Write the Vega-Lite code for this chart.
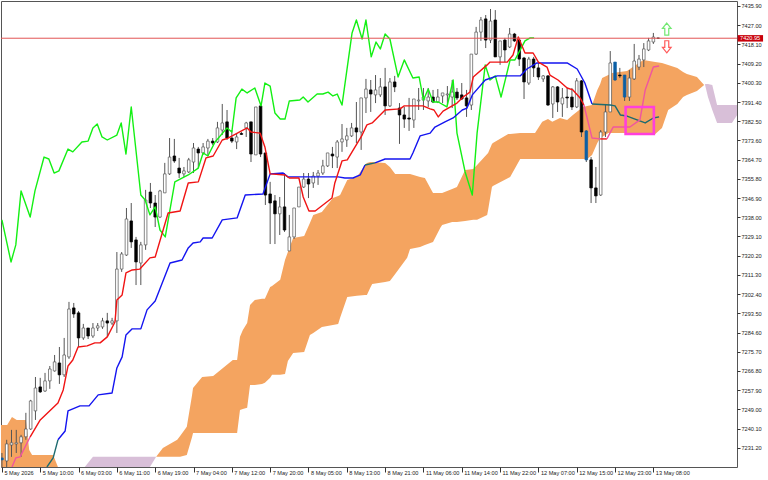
{
  "$schema": "https://vega.github.io/schema/vega-lite/v6.json",
  "width": 736,
  "height": 466,
  "autosize": "none",
  "padding": {"left": 1, "top": 1, "right": 31, "bottom": 13},
  "background": "white",
  "datasets": {
    "candles": [
      {"bar":0,"open":7226.5,"high":7228.8,"low":7222.3,"close":7225.6,"tone":"cloud"},
      {"bar":1,"open":7225.1,"high":7234.9,"low":7222.3,"close":7233.0,"tone":"up"},
      {"bar":2,"open":7232.5,"high":7239.5,"low":7227.0,"close":7233.5,"tone":"up"},
      {"bar":3,"open":7233.0,"high":7239.5,"low":7228.8,"close":7233.5,"tone":"up"},
      {"bar":4,"open":7233.5,"high":7237.2,"low":7227.0,"close":7236.3,"tone":"up"},
      {"bar":5,"open":7236.3,"high":7247.4,"low":7234.9,"close":7239.9,"tone":"up"},
      {"bar":6,"open":7239.9,"high":7253.4,"low":7239.5,"close":7252.9,"tone":"up"},
      {"bar":7,"open":7248.3,"high":7264.0,"low":7244.1,"close":7258.9,"tone":"up"},
      {"bar":8,"open":7259.4,"high":7263.6,"low":7256.6,"close":7257.1,"tone":"down"},
      {"bar":9,"open":7257.5,"high":7265.9,"low":7257.1,"close":7262.2,"tone":"up"},
      {"bar":10,"open":7262.2,"high":7269.1,"low":7258.5,"close":7267.7,"tone":"up"},
      {"bar":11,"open":7266.8,"high":7274.2,"low":7266.5,"close":7271.0,"tone":"up"},
      {"bar":12,"open":7270.5,"high":7277.9,"low":7260.8,"close":7265.0,"tone":"down"},
      {"bar":13,"open":7265.0,"high":7282.1,"low":7264.0,"close":7274.2,"tone":"up"},
      {"bar":14,"open":7273.3,"high":7298.8,"low":7272.4,"close":7295.5,"tone":"up"},
      {"bar":15,"open":7296.0,"high":7298.3,"low":7291.4,"close":7293.2,"tone":"down"},
      {"bar":16,"open":7293.7,"high":7294.6,"low":7277.9,"close":7282.1,"tone":"down"},
      {"bar":17,"open":7282.1,"high":7288.6,"low":7281.2,"close":7286.7,"tone":"up"},
      {"bar":18,"open":7286.7,"high":7286.7,"low":7281.6,"close":7283.0,"tone":"down"},
      {"bar":19,"open":7283.0,"high":7289.0,"low":7282.1,"close":7286.7,"tone":"up"},
      {"bar":20,"open":7286.7,"high":7289.0,"low":7285.3,"close":7287.7,"tone":"up"},
      {"bar":21,"open":7287.2,"high":7291.4,"low":7286.3,"close":7290.0,"tone":"up"},
      {"bar":22,"open":7290.0,"high":7293.7,"low":7282.6,"close":7289.0,"tone":"down"},
      {"bar":23,"open":7289.0,"high":7291.4,"low":7288.1,"close":7290.0,"tone":"up"},
      {"bar":24,"open":7290.0,"high":7321.9,"low":7284.4,"close":7314.0,"tone":"up"},
      {"bar":25,"open":7314.0,"high":7321.9,"low":7312.7,"close":7321.0,"tone":"up"},
      {"bar":26,"open":7320.5,"high":7342.3,"low":7320.1,"close":7337.2,"tone":"up"},
      {"bar":27,"open":7336.3,"high":7344.6,"low":7323.8,"close":7326.6,"tone":"down"},
      {"bar":28,"open":7327.5,"high":7328.9,"low":7306.6,"close":7317.3,"tone":"down"},
      {"bar":29,"open":7316.8,"high":7326.6,"low":7306.6,"close":7325.2,"tone":"up"},
      {"bar":30,"open":7325.2,"high":7350.7,"low":7322.9,"close":7346.0,"tone":"up"},
      {"bar":31,"open":7349.7,"high":7353.9,"low":7342.3,"close":7344.6,"tone":"down"},
      {"bar":32,"open":7344.6,"high":7348.3,"low":7333.5,"close":7338.1,"tone":"down"},
      {"bar":33,"open":7338.1,"high":7350.7,"low":7337.7,"close":7350.2,"tone":"up"},
      {"bar":34,"open":7349.3,"high":7363.2,"low":7349.3,"close":7358.1,"tone":"up"},
      {"bar":35,"open":7358.1,"high":7374.7,"low":7357.6,"close":7365.9,"tone":"up"},
      {"bar":36,"open":7366.4,"high":7374.3,"low":7363.2,"close":7364.1,"tone":"down"},
      {"bar":37,"open":7360.8,"high":7365.5,"low":7356.2,"close":7358.5,"tone":"down"},
      {"bar":38,"open":7358.1,"high":7361.3,"low":7356.7,"close":7359.5,"tone":"up"},
      {"bar":39,"open":7359.0,"high":7365.5,"low":7358.5,"close":7364.6,"tone":"up"},
      {"bar":40,"open":7363.6,"high":7372.4,"low":7358.5,"close":7370.1,"tone":"up"},
      {"bar":41,"open":7369.6,"high":7370.6,"low":7360.8,"close":7367.8,"tone":"down"},
      {"bar":42,"open":7367.8,"high":7372.4,"low":7366.9,"close":7370.6,"tone":"up"},
      {"bar":43,"open":7370.1,"high":7374.3,"low":7366.4,"close":7373.3,"tone":"up"},
      {"bar":44,"open":7373.3,"high":7374.7,"low":7371.5,"close":7372.4,"tone":"down"},
      {"bar":45,"open":7372.9,"high":7382.2,"low":7372.4,"close":7379.4,"tone":"up"},
      {"bar":46,"open":7378.4,"high":7390.5,"low":7376.1,"close":7381.7,"tone":"up"},
      {"bar":47,"open":7382.2,"high":7387.7,"low":7373.8,"close":7374.7,"tone":"down"},
      {"bar":48,"open":7374.7,"high":7378.4,"low":7372.4,"close":7373.3,"tone":"down"},
      {"bar":49,"open":7372.9,"high":7377.0,"low":7369.6,"close":7375.2,"tone":"up"},
      {"bar":50,"open":7376.8,"high":7377.5,"low":7376.1,"close":7376.4,"tone":"down"},
      {"bar":51,"open":7379.4,"high":7382.2,"low":7375.2,"close":7381.7,"tone":"up"},
      {"bar":52,"open":7382.2,"high":7382.2,"low":7363.6,"close":7367.3,"tone":"down"},
      {"bar":53,"open":7366.9,"high":7389.1,"low":7366.9,"close":7389.1,"tone":"up"},
      {"bar":54,"open":7389.6,"high":7389.6,"low":7365.9,"close":7367.3,"tone":"down"},
      {"bar":55,"open":7367.8,"high":7367.8,"low":7343.7,"close":7348.3,"tone":"down"},
      {"bar":56,"open":7348.8,"high":7354.4,"low":7325.6,"close":7344.6,"tone":"down"},
      {"bar":57,"open":7345.6,"high":7348.3,"low":7325.6,"close":7339.6,"tone":"down"},
      {"bar":58,"open":7339.6,"high":7347.4,"low":7329.8,"close":7342.8,"tone":"up"},
      {"bar":59,"open":7342.8,"high":7358.5,"low":7331.2,"close":7332.1,"tone":"down"},
      {"bar":60,"open":7322.4,"high":7339.1,"low":7322.4,"close":7328.9,"tone":"up"},
      {"bar":61,"open":7328.9,"high":7342.3,"low":7328.0,"close":7342.3,"tone":"up"},
      {"bar":62,"open":7342.8,"high":7352.0,"low":7342.8,"close":7352.0,"tone":"up"},
      {"bar":63,"open":7352.0,"high":7358.5,"low":7351.6,"close":7355.7,"tone":"up"},
      {"bar":64,"open":7355.7,"high":7358.5,"low":7346.9,"close":7353.4,"tone":"down"},
      {"bar":65,"open":7353.9,"high":7359.0,"low":7351.6,"close":7357.1,"tone":"up"},
      {"bar":66,"open":7357.1,"high":7359.9,"low":7353.0,"close":7358.5,"tone":"up"},
      {"bar":67,"open":7358.5,"high":7364.6,"low":7357.6,"close":7361.8,"tone":"up"},
      {"bar":68,"open":7361.8,"high":7367.8,"low":7361.3,"close":7367.8,"tone":"up"},
      {"bar":69,"open":7367.3,"high":7370.6,"low":7360.8,"close":7366.4,"tone":"down"},
      {"bar":70,"open":7365.9,"high":7373.8,"low":7360.8,"close":7372.9,"tone":"up"},
      {"bar":71,"open":7372.9,"high":7381.2,"low":7368.3,"close":7374.3,"tone":"up"},
      {"bar":72,"open":7373.8,"high":7379.4,"low":7370.6,"close":7375.7,"tone":"up"},
      {"bar":73,"open":7375.7,"high":7381.7,"low":7375.2,"close":7379.4,"tone":"up"},
      {"bar":74,"open":7379.4,"high":7391.4,"low":7372.4,"close":7377.5,"tone":"down"},
      {"bar":75,"open":7377.5,"high":7393.3,"low":7369.2,"close":7393.3,"tone":"up"},
      {"bar":76,"open":7393.3,"high":7402.1,"low":7386.3,"close":7397.4,"tone":"up"},
      {"bar":77,"open":7397.0,"high":7401.6,"low":7386.8,"close":7395.1,"tone":"down"},
      {"bar":78,"open":7394.7,"high":7403.9,"low":7390.9,"close":7397.0,"tone":"up"},
      {"bar":79,"open":7394.7,"high":7402.5,"low":7393.7,"close":7398.4,"tone":"up"},
      {"bar":80,"open":7398.4,"high":7407.2,"low":7385.4,"close":7389.6,"tone":"down"},
      {"bar":81,"open":7389.6,"high":7402.5,"low":7389.1,"close":7400.7,"tone":"up"},
      {"bar":82,"open":7400.7,"high":7403.5,"low":7396.0,"close":7398.4,"tone":"down"},
      {"bar":83,"open":7388.6,"high":7390.9,"low":7372.0,"close":7385.4,"tone":"down"},
      {"bar":84,"open":7385.4,"high":7389.1,"low":7379.4,"close":7383.5,"tone":"down"},
      {"bar":85,"open":7384.0,"high":7393.3,"low":7378.0,"close":7383.5,"tone":"down"},
      {"bar":86,"open":7383.1,"high":7392.8,"low":7379.4,"close":7392.8,"tone":"up"},
      {"bar":87,"open":7391.9,"high":7397.9,"low":7387.7,"close":7392.3,"tone":"up"},
      {"bar":88,"open":7392.3,"high":7397.9,"low":7387.7,"close":7393.7,"tone":"up"},
      {"bar":89,"open":7391.9,"high":7397.9,"low":7389.1,"close":7393.7,"tone":"up"},
      {"bar":90,"open":7393.7,"high":7397.0,"low":7390.9,"close":7391.4,"tone":"down"},
      {"bar":91,"open":7391.4,"high":7397.4,"low":7390.9,"close":7393.7,"tone":"up"},
      {"bar":92,"open":7394.2,"high":7395.6,"low":7390.9,"close":7395.6,"tone":"up"},
      {"bar":93,"open":7394.7,"high":7398.8,"low":7390.0,"close":7395.1,"tone":"up"},
      {"bar":94,"open":7393.7,"high":7401.6,"low":7388.6,"close":7396.0,"tone":"up"},
      {"bar":95,"open":7396.0,"high":7397.9,"low":7392.3,"close":7393.3,"tone":"down"},
      {"bar":96,"open":7394.7,"high":7400.2,"low":7392.3,"close":7392.8,"tone":"down"},
      {"bar":97,"open":7393.3,"high":7397.0,"low":7384.5,"close":7389.6,"tone":"down"},
      {"bar":98,"open":7390.0,"high":7413.6,"low":7387.7,"close":7413.6,"tone":"up"},
      {"bar":99,"open":7413.6,"high":7426.2,"low":7413.2,"close":7423.8,"tone":"up"},
      {"bar":100,"open":7423.8,"high":7430.8,"low":7419.7,"close":7429.4,"tone":"up"},
      {"bar":101,"open":7429.9,"high":7431.7,"low":7416.4,"close":7420.1,"tone":"down"},
      {"bar":102,"open":7420.1,"high":7434.5,"low":7418.7,"close":7428.9,"tone":"up"},
      {"bar":103,"open":7429.4,"high":7434.0,"low":7412.3,"close":7412.3,"tone":"down"},
      {"bar":104,"open":7412.3,"high":7419.7,"low":7408.6,"close":7419.7,"tone":"up"},
      {"bar":105,"open":7420.1,"high":7421.1,"low":7409.9,"close":7415.5,"tone":"down"},
      {"bar":106,"open":7416.9,"high":7425.7,"low":7416.4,"close":7422.9,"tone":"up"},
      {"bar":107,"open":7422.9,"high":7423.4,"low":7419.2,"close":7419.7,"tone":"down"},
      {"bar":108,"open":7420.1,"high":7421.1,"low":7408.1,"close":7411.3,"tone":"down"},
      {"bar":109,"open":7411.8,"high":7412.3,"low":7392.8,"close":7400.7,"tone":"down"},
      {"bar":110,"open":7400.2,"high":7412.3,"low":7399.3,"close":7411.3,"tone":"up"},
      {"bar":111,"open":7411.3,"high":7412.3,"low":7403.0,"close":7407.2,"tone":"down"},
      {"bar":112,"open":7407.2,"high":7409.9,"low":7401.6,"close":7403.0,"tone":"down"},
      {"bar":113,"open":7402.1,"high":7403.9,"low":7400.7,"close":7403.5,"tone":"up"},
      {"bar":114,"open":7403.5,"high":7403.9,"low":7389.6,"close":7390.0,"tone":"down"},
      {"bar":115,"open":7390.5,"high":7398.8,"low":7384.0,"close":7398.4,"tone":"up"},
      {"bar":116,"open":7398.4,"high":7398.8,"low":7386.8,"close":7391.4,"tone":"down"},
      {"bar":117,"open":7390.5,"high":7397.9,"low":7384.5,"close":7393.3,"tone":"up"},
      {"bar":118,"open":7393.7,"high":7397.9,"low":7388.6,"close":7393.3,"tone":"down"},
      {"bar":119,"open":7393.7,"high":7397.9,"low":7387.7,"close":7389.1,"tone":"down"},
      {"bar":120,"open":7389.1,"high":7402.5,"low":7388.6,"close":7401.2,"tone":"up"},
      {"bar":121,"open":7401.2,"high":7401.6,"low":7375.2,"close":7377.5,"tone":"down"},
      {"bar":122,"open":7378.0,"high":7378.4,"low":7363.6,"close":7364.6,"tone":"cloud"},
      {"bar":123,"open":7364.6,"high":7365.9,"low":7344.6,"close":7351.6,"tone":"down"},
      {"bar":124,"open":7351.6,"high":7361.3,"low":7344.6,"close":7347.9,"tone":"down"},
      {"bar":125,"open":7348.3,"high":7378.4,"low":7347.9,"close":7377.5,"tone":"up"},
      {"bar":126,"open":7377.5,"high":7390.5,"low":7375.2,"close":7386.8,"tone":"up"},
      {"bar":127,"open":7386.8,"high":7415.0,"low":7386.8,"close":7409.5,"tone":"up"},
      {"bar":128,"open":7409.9,"high":7409.9,"low":7401.2,"close":7401.6,"tone":"cloud"},
      {"bar":129,"open":7403.9,"high":7407.2,"low":7402.5,"close":7403.5,"tone":"down"},
      {"bar":130,"open":7403.9,"high":7403.9,"low":7391.9,"close":7393.7,"tone":"cloud"},
      {"bar":131,"open":7393.7,"high":7406.2,"low":7391.9,"close":7402.5,"tone":"up"},
      {"bar":132,"open":7402.1,"high":7418.3,"low":7401.6,"close":7410.4,"tone":"up"},
      {"bar":133,"open":7407.6,"high":7413.2,"low":7406.2,"close":7411.3,"tone":"up"},
      {"bar":134,"open":7410.9,"high":7418.7,"low":7407.6,"close":7416.0,"tone":"up"},
      {"bar":135,"open":7415.5,"high":7421.1,"low":7415.0,"close":7419.7,"tone":"up"},
      {"bar":136,"open":7419.2,"high":7423.4,"low":7418.3,"close":7421.5,"tone":"up"},
      {"bar":137,"open":7421.0,"high":7421.1,"low":7420.6,"close":7420.95,"tone":"down"}
    ],
    "cloud": [
      {"bar":-0.2,"top":7241.8,"bottom":7222.3,"part":"a","kumo":"rising"},
      {"bar":1.1,"top":7241.8,"bottom":7222.3,"part":"a","kumo":"rising"},
      {"bar":2.1,"top":7245.5,"bottom":7222.3,"part":"a","kumo":"rising"},
      {"bar":3.1,"top":7244.1,"bottom":7222.3,"part":"a","kumo":"rising"},
      {"bar":5.0,"top":7244.1,"bottom":7222.3,"part":"a","kumo":"rising"},
      {"bar":5.7,"top":7230.2,"bottom":7222.3,"part":"a","kumo":"rising"},
      {"bar":6.3,"top":7227.9,"bottom":7222.3,"part":"a","kumo":"rising"},
      {"bar":10.7,"top":7227.9,"bottom":7222.3,"part":"a","kumo":"rising"},
      {"bar":11.7,"top":7222.3,"bottom":7222.3,"part":"a","kumo":"rising"},
      {"bar":17.3,"top":7222.3,"bottom":7222.3,"part":"b","kumo":"falling"},
      {"bar":19.0,"top":7227.0,"bottom":7222.3,"part":"b","kumo":"falling"},
      {"bar":30.9,"top":7227.0,"bottom":7222.3,"part":"b","kumo":"falling"},
      {"bar":32.2,"top":7227.0,"bottom":7227.0,"part":"b","kumo":"falling"},
      {"bar":32.2,"top":7227.0,"bottom":7227.0,"part":"c","kumo":"rising"},
      {"bar":33.6,"top":7231.1,"bottom":7227.0,"part":"c","kumo":"rising"},
      {"bar":36.6,"top":7234.9,"bottom":7227.0,"part":"c","kumo":"rising"},
      {"bar":37.2,"top":7236.7,"bottom":7227.0,"part":"c","kumo":"rising"},
      {"bar":38.6,"top":7240.9,"bottom":7227.9,"part":"c","kumo":"rising"},
      {"bar":39.7,"top":7255.7,"bottom":7236.2,"part":"c","kumo":"rising"},
      {"bar":39.9,"top":7258.9,"bottom":7238.1,"part":"c","kumo":"rising"},
      {"bar":41.8,"top":7264.0,"bottom":7238.1,"part":"c","kumo":"rising"},
      {"bar":44.1,"top":7264.5,"bottom":7238.1,"part":"c","kumo":"rising"},
      {"bar":48.2,"top":7271.9,"bottom":7238.1,"part":"c","kumo":"rising"},
      {"bar":49.1,"top":7271.9,"bottom":7238.1,"part":"c","kumo":"rising"},
      {"bar":49.7,"top":7282.6,"bottom":7248.7,"part":"c","kumo":"rising"},
      {"bar":50.3,"top":7285.8,"bottom":7249.2,"part":"c","kumo":"rising"},
      {"bar":51.2,"top":7289.0,"bottom":7249.7,"part":"c","kumo":"rising"},
      {"bar":51.8,"top":7297.4,"bottom":7260.3,"part":"c","kumo":"rising"},
      {"bar":52.8,"top":7299.7,"bottom":7260.3,"part":"c","kumo":"rising"},
      {"bar":54.3,"top":7300.2,"bottom":7260.8,"part":"c","kumo":"rising"},
      {"bar":54.9,"top":7300.2,"bottom":7261.3,"part":"c","kumo":"rising"},
      {"bar":56.0,"top":7305.7,"bottom":7263.6,"part":"c","kumo":"rising"},
      {"bar":56.4,"top":7306.2,"bottom":7265.0,"part":"c","kumo":"rising"},
      {"bar":58.1,"top":7309.0,"bottom":7265.0,"part":"c","kumo":"rising"},
      {"bar":59.1,"top":7318.2,"bottom":7265.4,"part":"c","kumo":"rising"},
      {"bar":59.7,"top":7321.9,"bottom":7271.4,"part":"c","kumo":"rising"},
      {"bar":60.8,"top":7328.4,"bottom":7275.1,"part":"c","kumo":"rising"},
      {"bar":63.1,"top":7329.3,"bottom":7275.6,"part":"c","kumo":"rising"},
      {"bar":64.3,"top":7335.4,"bottom":7283.5,"part":"c","kumo":"rising"},
      {"bar":65.0,"top":7339.1,"bottom":7284.4,"part":"c","kumo":"rising"},
      {"bar":66.8,"top":7340.5,"bottom":7287.2,"part":"c","kumo":"rising"},
      {"bar":69.1,"top":7346.9,"bottom":7288.1,"part":"c","kumo":"rising"},
      {"bar":70.2,"top":7347.9,"bottom":7288.6,"part":"c","kumo":"rising"},
      {"bar":70.6,"top":7348.3,"bottom":7291.4,"part":"c","kumo":"rising"},
      {"bar":72.1,"top":7355.3,"bottom":7301.1,"part":"c","kumo":"rising"},
      {"bar":74.1,"top":7356.7,"bottom":7301.6,"part":"c","kumo":"rising"},
      {"bar":75.8,"top":7362.2,"bottom":7302.0,"part":"c","kumo":"rising"},
      {"bar":76.2,"top":7363.2,"bottom":7302.0,"part":"c","kumo":"rising"},
      {"bar":76.9,"top":7363.6,"bottom":7305.3,"part":"c","kumo":"rising"},
      {"bar":77.3,"top":7363.6,"bottom":7307.1,"part":"c","kumo":"rising"},
      {"bar":80.0,"top":7363.2,"bottom":7308.0,"part":"c","kumo":"rising"},
      {"bar":81.0,"top":7361.3,"bottom":7308.5,"part":"c","kumo":"rising"},
      {"bar":82.1,"top":7358.1,"bottom":7311.7,"part":"c","kumo":"rising"},
      {"bar":84.6,"top":7358.1,"bottom":7319.2,"part":"c","kumo":"rising"},
      {"bar":85.2,"top":7358.1,"bottom":7323.3,"part":"c","kumo":"rising"},
      {"bar":87.3,"top":7356.7,"bottom":7324.2,"part":"c","kumo":"rising"},
      {"bar":88.3,"top":7356.2,"bottom":7325.2,"part":"c","kumo":"rising"},
      {"bar":90.0,"top":7349.3,"bottom":7326.6,"part":"c","kumo":"rising"},
      {"bar":91.5,"top":7349.3,"bottom":7333.0,"part":"c","kumo":"rising"},
      {"bar":91.9,"top":7349.3,"bottom":7334.4,"part":"c","kumo":"rising"},
      {"bar":94.0,"top":7351.1,"bottom":7335.8,"part":"c","kumo":"rising"},
      {"bar":95.0,"top":7352.0,"bottom":7335.8,"part":"c","kumo":"rising"},
      {"bar":96.7,"top":7359.9,"bottom":7336.3,"part":"c","kumo":"rising"},
      {"bar":98.4,"top":7360.4,"bottom":7336.8,"part":"c","kumo":"rising"},
      {"bar":99.2,"top":7362.2,"bottom":7336.8,"part":"c","kumo":"rising"},
      {"bar":101.3,"top":7367.3,"bottom":7339.1,"part":"c","kumo":"rising"},
      {"bar":101.5,"top":7367.8,"bottom":7341.4,"part":"c","kumo":"rising"},
      {"bar":102.3,"top":7372.0,"bottom":7352.0,"part":"c","kumo":"rising"},
      {"bar":102.5,"top":7372.4,"bottom":7352.5,"part":"c","kumo":"rising"},
      {"bar":105.7,"top":7376.6,"bottom":7356.2,"part":"c","kumo":"rising"},
      {"bar":106.1,"top":7376.6,"bottom":7356.7,"part":"c","kumo":"rising"},
      {"bar":108.2,"top":7377.0,"bottom":7365.0,"part":"c","kumo":"rising"},
      {"bar":111.3,"top":7377.0,"bottom":7365.0,"part":"c","kumo":"rising"},
      {"bar":112.8,"top":7382.2,"bottom":7365.0,"part":"c","kumo":"rising"},
      {"bar":114.0,"top":7383.5,"bottom":7365.0,"part":"c","kumo":"rising"},
      {"bar":114.9,"top":7382.2,"bottom":7365.0,"part":"c","kumo":"rising"},
      {"bar":116.5,"top":7384.0,"bottom":7365.0,"part":"c","kumo":"rising"},
      {"bar":118.0,"top":7383.1,"bottom":7365.0,"part":"c","kumo":"rising"},
      {"bar":119.2,"top":7385.4,"bottom":7365.0,"part":"c","kumo":"rising"},
      {"bar":121.3,"top":7389.1,"bottom":7365.0,"part":"c","kumo":"rising"},
      {"bar":122.2,"top":7389.6,"bottom":7365.0,"part":"c","kumo":"rising"},
      {"bar":123.2,"top":7390.0,"bottom":7366.9,"part":"c","kumo":"rising"},
      {"bar":124.3,"top":7397.0,"bottom":7372.4,"part":"c","kumo":"rising"},
      {"bar":124.9,"top":7399.8,"bottom":7374.7,"part":"c","kumo":"rising"},
      {"bar":125.3,"top":7402.5,"bottom":7375.2,"part":"c","kumo":"rising"},
      {"bar":126.6,"top":7403.9,"bottom":7377.0,"part":"c","kumo":"rising"},
      {"bar":127.4,"top":7404.8,"bottom":7377.0,"part":"c","kumo":"rising"},
      {"bar":130.5,"top":7405.8,"bottom":7377.0,"part":"c","kumo":"rising"},
      {"bar":133.9,"top":7410.9,"bottom":7376.6,"part":"c","kumo":"rising"},
      {"bar":136.4,"top":7409.9,"bottom":7376.6,"part":"c","kumo":"rising"},
      {"bar":137.8,"top":7409.5,"bottom":7379.4,"part":"c","kumo":"rising"},
      {"bar":139.1,"top":7408.6,"bottom":7387.7,"part":"c","kumo":"rising"},
      {"bar":141.0,"top":7407.2,"bottom":7390.5,"part":"c","kumo":"rising"},
      {"bar":142.2,"top":7405.3,"bottom":7393.7,"part":"c","kumo":"rising"},
      {"bar":143.0,"top":7404.4,"bottom":7394.7,"part":"c","kumo":"rising"},
      {"bar":145.1,"top":7403.0,"bottom":7396.5,"part":"c","kumo":"rising"},
      {"bar":146.6,"top":7399.3,"bottom":7399.3,"part":"c","kumo":"rising"},
      {"bar":146.8,"top":7399.8,"bottom":7399.3,"part":"d","kumo":"falling"},
      {"bar":147.4,"top":7399.8,"bottom":7393.7,"part":"d","kumo":"falling"},
      {"bar":148.3,"top":7399.3,"bottom":7387.7,"part":"d","kumo":"falling"},
      {"bar":149.3,"top":7390.0,"bottom":7381.7,"part":"d","kumo":"falling"},
      {"bar":152.4,"top":7390.0,"bottom":7381.7,"part":"d","kumo":"falling"},
      {"bar":153.5,"top":7390.0,"bottom":7385.4,"part":"d","kumo":"falling"}
    ],
    "lines": [
      {"segment":"chikou","tone":"chikou","bar":0.0,"price":7336.8},
      {"segment":"chikou","tone":"chikou","bar":1.9,"price":7317.3},
      {"segment":"chikou","tone":"chikou","bar":2.9,"price":7325.2},
      {"segment":"chikou","tone":"chikou","bar":4.0,"price":7350.2},
      {"segment":"chikou","tone":"chikou","bar":5.9,"price":7338.1},
      {"segment":"chikou","tone":"chikou","bar":6.9,"price":7350.2},
      {"segment":"chikou","tone":"chikou","bar":8.8,"price":7365.9},
      {"segment":"chikou","tone":"chikou","bar":9.8,"price":7365.0},
      {"segment":"chikou","tone":"chikou","bar":10.9,"price":7358.5},
      {"segment":"chikou","tone":"chikou","bar":11.9,"price":7359.5},
      {"segment":"chikou","tone":"chikou","bar":13.8,"price":7369.6},
      {"segment":"chikou","tone":"chikou","bar":14.8,"price":7368.3},
      {"segment":"chikou","tone":"chikou","bar":16.7,"price":7372.9},
      {"segment":"chikou","tone":"chikou","bar":18.0,"price":7373.3},
      {"segment":"chikou","tone":"chikou","bar":19.0,"price":7379.4},
      {"segment":"chikou","tone":"chikou","bar":19.9,"price":7381.2},
      {"segment":"chikou","tone":"chikou","bar":20.9,"price":7375.2},
      {"segment":"chikou","tone":"chikou","bar":22.0,"price":7373.8},
      {"segment":"chikou","tone":"chikou","bar":24.0,"price":7376.1},
      {"segment":"chikou","tone":"chikou","bar":24.9,"price":7381.7},
      {"segment":"chikou","tone":"chikou","bar":25.9,"price":7367.3},
      {"segment":"chikou","tone":"chikou","bar":27.0,"price":7389.1},
      {"segment":"chikou","tone":"chikou","bar":29.0,"price":7348.3},
      {"segment":"chikou","tone":"chikou","bar":29.9,"price":7346.0},
      {"segment":"chikou","tone":"chikou","bar":30.9,"price":7339.1},
      {"segment":"chikou","tone":"chikou","bar":32.0,"price":7342.8},
      {"segment":"chikou","tone":"chikou","bar":33.0,"price":7332.1},
      {"segment":"chikou","tone":"chikou","bar":34.1,"price":7328.9},
      {"segment":"chikou","tone":"chikou","bar":36.1,"price":7354.4},
      {"segment":"chikou","tone":"chikou","bar":37.2,"price":7355.7},
      {"segment":"chikou","tone":"chikou","bar":38.9,"price":7357.6},
      {"segment":"chikou","tone":"chikou","bar":41.0,"price":7360.8},
      {"segment":"chikou","tone":"chikou","bar":42.0,"price":7367.8},
      {"segment":"chikou","tone":"chikou","bar":43.0,"price":7366.4},
      {"segment":"chikou","tone":"chikou","bar":44.5,"price":7372.9},
      {"segment":"chikou","tone":"chikou","bar":47.0,"price":7379.4},
      {"segment":"chikou","tone":"chikou","bar":48.0,"price":7377.5},
      {"segment":"chikou","tone":"chikou","bar":48.9,"price":7393.3},
      {"segment":"chikou","tone":"chikou","bar":50.1,"price":7397.4},
      {"segment":"chikou","tone":"chikou","bar":51.2,"price":7395.6},
      {"segment":"chikou","tone":"chikou","bar":52.8,"price":7397.9},
      {"segment":"chikou","tone":"chikou","bar":54.1,"price":7389.6},
      {"segment":"chikou","tone":"chikou","bar":54.9,"price":7400.2},
      {"segment":"chikou","tone":"chikou","bar":56.0,"price":7398.8},
      {"segment":"chikou","tone":"chikou","bar":57.0,"price":7386.3},
      {"segment":"chikou","tone":"chikou","bar":58.1,"price":7383.5},
      {"segment":"chikou","tone":"chikou","bar":59.1,"price":7383.5},
      {"segment":"chikou","tone":"chikou","bar":60.0,"price":7391.9},
      {"segment":"chikou","tone":"chikou","bar":62.2,"price":7392.3},
      {"segment":"chikou","tone":"chikou","bar":62.9,"price":7393.7},
      {"segment":"chikou","tone":"chikou","bar":63.9,"price":7391.4},
      {"segment":"chikou","tone":"chikou","bar":65.8,"price":7395.1},
      {"segment":"chikou","tone":"chikou","bar":67.0,"price":7395.1},
      {"segment":"chikou","tone":"chikou","bar":68.1,"price":7396.0},
      {"segment":"chikou","tone":"chikou","bar":69.1,"price":7394.2},
      {"segment":"chikou","tone":"chikou","bar":70.0,"price":7395.1},
      {"segment":"chikou","tone":"chikou","bar":71.0,"price":7390.0},
      {"segment":"chikou","tone":"chikou","bar":73.1,"price":7423.4},
      {"segment":"chikou","tone":"chikou","bar":74.0,"price":7429.4},
      {"segment":"chikou","tone":"chikou","bar":75.2,"price":7420.6},
      {"segment":"chikou","tone":"chikou","bar":76.0,"price":7429.4},
      {"segment":"chikou","tone":"chikou","bar":77.1,"price":7412.3},
      {"segment":"chikou","tone":"chikou","bar":78.1,"price":7419.2},
      {"segment":"chikou","tone":"chikou","bar":79.0,"price":7416.0},
      {"segment":"chikou","tone":"chikou","bar":80.0,"price":7422.9},
      {"segment":"chikou","tone":"chikou","bar":81.0,"price":7420.6},
      {"segment":"chikou","tone":"chikou","bar":82.7,"price":7403.0},
      {"segment":"chikou","tone":"chikou","bar":84.0,"price":7410.9},
      {"segment":"chikou","tone":"chikou","bar":85.8,"price":7402.5},
      {"segment":"chikou","tone":"chikou","bar":87.1,"price":7403.0},
      {"segment":"chikou","tone":"chikou","bar":88.0,"price":7392.3},
      {"segment":"chikou","tone":"chikou","bar":89.0,"price":7397.4},
      {"segment":"chikou","tone":"chikou","bar":90.0,"price":7391.4},
      {"segment":"chikou","tone":"chikou","bar":91.1,"price":7391.4},
      {"segment":"chikou","tone":"chikou","bar":92.9,"price":7389.1},
      {"segment":"chikou","tone":"chikou","bar":94.2,"price":7401.6},
      {"segment":"chikou","tone":"chikou","bar":95.0,"price":7377.0},
      {"segment":"chikou","tone":"chikou","bar":96.7,"price":7359.0},
      {"segment":"chikou","tone":"chikou","bar":98.2,"price":7348.3},
      {"segment":"chikou","tone":"chikou","bar":99.2,"price":7377.0},
      {"segment":"chikou","tone":"chikou","bar":100.9,"price":7408.6},
      {"segment":"chikou","tone":"chikou","bar":101.9,"price":7401.6},
      {"segment":"chikou","tone":"chikou","bar":103.0,"price":7403.5},
      {"segment":"chikou","tone":"chikou","bar":104.2,"price":7393.7},
      {"segment":"chikou","tone":"chikou","bar":106.1,"price":7410.9},
      {"segment":"chikou","tone":"chikou","bar":107.1,"price":7410.9},
      {"segment":"chikou","tone":"chikou","bar":109.2,"price":7419.7},
      {"segment":"chikou","tone":"chikou","bar":110.3,"price":7421.1},
      {"segment":"chikou","tone":"chikou","bar":111.1,"price":7421.1},

      {"segment":"kijun-c1","tone":"kijun on cloud","bar":9.4,"price":7222.3},
      {"segment":"kijun-c1","tone":"kijun on cloud","bar":10.7,"price":7226.5},
      {"segment":"kijun-c1","tone":"kijun on cloud","bar":11.7,"price":7234.9},
      {"segment":"kijun-1","tone":"kijun","bar":11.7,"price":7234.9},
      {"segment":"kijun-1","tone":"kijun","bar":13.2,"price":7239.0},
      {"segment":"kijun-1","tone":"kijun","bar":13.8,"price":7248.3},
      {"segment":"kijun-1","tone":"kijun","bar":16.3,"price":7250.6},
      {"segment":"kijun-1","tone":"kijun","bar":18.2,"price":7250.6},
      {"segment":"kijun-1","tone":"kijun","bar":20.1,"price":7255.7},
      {"segment":"kijun-1","tone":"kijun","bar":23.0,"price":7256.6},
      {"segment":"kijun-1","tone":"kijun","bar":24.0,"price":7268.2},
      {"segment":"kijun-1","tone":"kijun","bar":25.1,"price":7273.3},
      {"segment":"kijun-1","tone":"kijun","bar":25.9,"price":7283.5},
      {"segment":"kijun-1","tone":"kijun","bar":27.2,"price":7286.3},
      {"segment":"kijun-1","tone":"kijun","bar":29.0,"price":7286.3},
      {"segment":"kijun-1","tone":"kijun","bar":30.3,"price":7295.1},
      {"segment":"kijun-1","tone":"kijun","bar":32.0,"price":7299.2},
      {"segment":"kijun-1","tone":"kijun","bar":35.1,"price":7316.8},
      {"segment":"kijun-1","tone":"kijun","bar":37.6,"price":7318.2},
      {"segment":"kijun-1","tone":"kijun","bar":38.9,"price":7323.8},
      {"segment":"kijun-1","tone":"kijun","bar":39.9,"price":7326.1},
      {"segment":"kijun-1","tone":"kijun","bar":41.4,"price":7326.6},
      {"segment":"kijun-1","tone":"kijun","bar":42.0,"price":7328.4},
      {"segment":"kijun-1","tone":"kijun","bar":43.9,"price":7328.4},
      {"segment":"kijun-1","tone":"kijun","bar":46.0,"price":7336.8},
      {"segment":"kijun-1","tone":"kijun","bar":49.1,"price":7337.7},
      {"segment":"kijun-1","tone":"kijun","bar":50.8,"price":7348.3},
      {"segment":"kijun-1","tone":"kijun","bar":54.5,"price":7348.8},
      {"segment":"kijun-1","tone":"kijun","bar":56.0,"price":7358.1},
      {"segment":"kijun-1","tone":"kijun","bar":58.7,"price":7358.5},
      {"segment":"kijun-1","tone":"kijun","bar":59.7,"price":7356.7},
      {"segment":"kijun-1","tone":"kijun","bar":70.2,"price":7356.7},
      {"segment":"kijun-1","tone":"kijun","bar":71.6,"price":7356.2},
      {"segment":"kijun-1","tone":"kijun","bar":73.3,"price":7356.2},
      {"segment":"kijun-1","tone":"kijun","bar":74.8,"price":7357.6},
      {"segment":"kijun-1","tone":"kijun","bar":75.8,"price":7362.2},
      {"segment":"kijun-c2","tone":"kijun on cloud","bar":75.8,"price":7362.2},
      {"segment":"kijun-c2","tone":"kijun on cloud","bar":77.9,"price":7363.2},
      {"segment":"kijun-2","tone":"kijun","bar":77.9,"price":7363.2},
      {"segment":"kijun-2","tone":"kijun","bar":80.0,"price":7365.0},
      {"segment":"kijun-2","tone":"kijun","bar":85.2,"price":7365.0},
      {"segment":"kijun-2","tone":"kijun","bar":85.8,"price":7367.8},
      {"segment":"kijun-2","tone":"kijun","bar":87.3,"price":7375.7},
      {"segment":"kijun-2","tone":"kijun","bar":89.4,"price":7377.0},
      {"segment":"kijun-2","tone":"kijun","bar":90.4,"price":7379.8},
      {"segment":"kijun-2","tone":"kijun","bar":92.5,"price":7382.2},
      {"segment":"kijun-2","tone":"kijun","bar":94.2,"price":7384.0},
      {"segment":"kijun-2","tone":"kijun","bar":96.1,"price":7387.7},
      {"segment":"kijun-2","tone":"kijun","bar":97.1,"price":7388.6},
      {"segment":"kijun-2","tone":"kijun","bar":98.2,"price":7394.7},
      {"segment":"kijun-2","tone":"kijun","bar":100.9,"price":7401.6},
      {"segment":"kijun-2","tone":"kijun","bar":103.4,"price":7403.5},
      {"segment":"kijun-2","tone":"kijun","bar":108.2,"price":7403.5},
      {"segment":"kijun-2","tone":"kijun","bar":109.6,"price":7406.7},
      {"segment":"kijun-2","tone":"kijun","bar":111.7,"price":7409.5},
      {"segment":"kijun-2","tone":"kijun","bar":118.0,"price":7409.5},
      {"segment":"kijun-2","tone":"kijun","bar":120.1,"price":7406.7},
      {"segment":"kijun-2","tone":"kijun","bar":121.7,"price":7400.2},
      {"segment":"kijun-2","tone":"kijun","bar":123.2,"price":7390.5},
      {"segment":"kijun-c3","tone":"kijun on cloud","bar":123.2,"price":7390.5},
      {"segment":"kijun-c3","tone":"kijun on cloud","bar":127.0,"price":7390.0},
      {"segment":"kijun-c3","tone":"kijun on cloud","bar":128.0,"price":7389.6},
      {"segment":"kijun-c3","tone":"kijun on cloud","bar":129.1,"price":7385.4},
      {"segment":"kijun-c3","tone":"kijun on cloud","bar":130.5,"price":7384.9},
      {"segment":"kijun-c3","tone":"kijun on cloud","bar":132.6,"price":7383.1},
      {"segment":"kijun-c3","tone":"kijun on cloud","bar":134.3,"price":7381.7},
      {"segment":"kijun-c3","tone":"kijun on cloud","bar":136.0,"price":7384.0},
      {"segment":"kijun-c3","tone":"kijun on cloud","bar":137.2,"price":7384.5},

      {"segment":"tenkan-c1","tone":"tenkan on cloud","bar":2.1,"price":7222.3},
      {"segment":"tenkan-c1","tone":"tenkan on cloud","bar":2.9,"price":7226.5},
      {"segment":"tenkan-c1","tone":"tenkan on cloud","bar":3.8,"price":7227.0},
      {"segment":"tenkan-c1","tone":"tenkan on cloud","bar":5.9,"price":7236.3},
      {"segment":"tenkan-1","tone":"tenkan","bar":5.9,"price":7236.3},
      {"segment":"tenkan-1","tone":"tenkan","bar":8.0,"price":7244.1},
      {"segment":"tenkan-1","tone":"tenkan","bar":11.7,"price":7252.0},
      {"segment":"tenkan-1","tone":"tenkan","bar":12.8,"price":7258.0},
      {"segment":"tenkan-1","tone":"tenkan","bar":13.8,"price":7269.1},
      {"segment":"tenkan-1","tone":"tenkan","bar":14.8,"price":7271.9},
      {"segment":"tenkan-1","tone":"tenkan","bar":15.9,"price":7277.9},
      {"segment":"tenkan-1","tone":"tenkan","bar":17.8,"price":7278.4},
      {"segment":"tenkan-1","tone":"tenkan","bar":19.4,"price":7279.8},
      {"segment":"tenkan-1","tone":"tenkan","bar":20.5,"price":7279.8},
      {"segment":"tenkan-1","tone":"tenkan","bar":22.0,"price":7282.6},
      {"segment":"tenkan-1","tone":"tenkan","bar":23.6,"price":7289.5},
      {"segment":"tenkan-1","tone":"tenkan","bar":24.0,"price":7299.7},
      {"segment":"tenkan-1","tone":"tenkan","bar":25.1,"price":7302.0},
      {"segment":"tenkan-1","tone":"tenkan","bar":25.9,"price":7312.2},
      {"segment":"tenkan-1","tone":"tenkan","bar":27.2,"price":7313.6},
      {"segment":"tenkan-1","tone":"tenkan","bar":28.8,"price":7314.0},
      {"segment":"tenkan-1","tone":"tenkan","bar":30.9,"price":7319.2},
      {"segment":"tenkan-1","tone":"tenkan","bar":32.0,"price":7319.6},
      {"segment":"tenkan-1","tone":"tenkan","bar":34.7,"price":7340.0},
      {"segment":"tenkan-1","tone":"tenkan","bar":37.2,"price":7340.9},
      {"segment":"tenkan-1","tone":"tenkan","bar":38.9,"price":7353.9},
      {"segment":"tenkan-1","tone":"tenkan","bar":41.0,"price":7354.4},
      {"segment":"tenkan-1","tone":"tenkan","bar":42.6,"price":7365.5},
      {"segment":"tenkan-1","tone":"tenkan","bar":44.1,"price":7366.4},
      {"segment":"tenkan-1","tone":"tenkan","bar":46.0,"price":7373.8},
      {"segment":"tenkan-1","tone":"tenkan","bar":47.2,"price":7374.7},
      {"segment":"tenkan-1","tone":"tenkan","bar":51.2,"price":7379.4},
      {"segment":"tenkan-1","tone":"tenkan","bar":52.0,"price":7377.5},
      {"segment":"tenkan-1","tone":"tenkan","bar":53.9,"price":7377.0},
      {"segment":"tenkan-1","tone":"tenkan","bar":54.9,"price":7370.6},
      {"segment":"tenkan-1","tone":"tenkan","bar":56.0,"price":7358.1},
      {"segment":"tenkan-1","tone":"tenkan","bar":59.1,"price":7357.6},
      {"segment":"tenkan-1","tone":"tenkan","bar":60.0,"price":7356.2},
      {"segment":"tenkan-1","tone":"tenkan","bar":62.0,"price":7356.2},
      {"segment":"tenkan-1","tone":"tenkan","bar":62.9,"price":7347.4},
      {"segment":"tenkan-1","tone":"tenkan","bar":64.1,"price":7340.9},
      {"segment":"tenkan-1","tone":"tenkan","bar":65.4,"price":7340.9},
      {"segment":"tenkan-1","tone":"tenkan","bar":68.9,"price":7346.9},
      {"segment":"tenkan-1","tone":"tenkan","bar":69.5,"price":7353.9},
      {"segment":"tenkan-1","tone":"tenkan","bar":71.0,"price":7364.1},
      {"segment":"tenkan-1","tone":"tenkan","bar":72.1,"price":7364.6},
      {"segment":"tenkan-1","tone":"tenkan","bar":75.2,"price":7376.1},
      {"segment":"tenkan-1","tone":"tenkan","bar":76.2,"price":7380.8},
      {"segment":"tenkan-1","tone":"tenkan","bar":77.3,"price":7381.7},
      {"segment":"tenkan-1","tone":"tenkan","bar":80.0,"price":7387.7},
      {"segment":"tenkan-1","tone":"tenkan","bar":83.1,"price":7388.2},
      {"segment":"tenkan-1","tone":"tenkan","bar":84.0,"price":7389.6},
      {"segment":"tenkan-1","tone":"tenkan","bar":87.9,"price":7389.6},
      {"segment":"tenkan-1","tone":"tenkan","bar":89.4,"price":7388.2},
      {"segment":"tenkan-1","tone":"tenkan","bar":90.2,"price":7387.7},
      {"segment":"tenkan-1","tone":"tenkan","bar":91.1,"price":7384.5},
      {"segment":"tenkan-1","tone":"tenkan","bar":92.1,"price":7387.2},
      {"segment":"tenkan-1","tone":"tenkan","bar":95.0,"price":7390.9},
      {"segment":"tenkan-1","tone":"tenkan","bar":96.3,"price":7393.7},
      {"segment":"tenkan-1","tone":"tenkan","bar":97.7,"price":7396.0},
      {"segment":"tenkan-1","tone":"tenkan","bar":98.4,"price":7403.0},
      {"segment":"tenkan-1","tone":"tenkan","bar":101.3,"price":7408.6},
      {"segment":"tenkan-1","tone":"tenkan","bar":101.9,"price":7409.9},
      {"segment":"tenkan-1","tone":"tenkan","bar":105.5,"price":7409.9},
      {"segment":"tenkan-1","tone":"tenkan","bar":106.7,"price":7413.2},
      {"segment":"tenkan-1","tone":"tenkan","bar":107.8,"price":7421.5},
      {"segment":"tenkan-1","tone":"tenkan","bar":109.2,"price":7414.1},
      {"segment":"tenkan-1","tone":"tenkan","bar":110.9,"price":7414.1},
      {"segment":"tenkan-1","tone":"tenkan","bar":112.0,"price":7409.9},
      {"segment":"tenkan-1","tone":"tenkan","bar":113.8,"price":7407.6},
      {"segment":"tenkan-1","tone":"tenkan","bar":114.4,"price":7403.9},
      {"segment":"tenkan-1","tone":"tenkan","bar":116.1,"price":7401.6},
      {"segment":"tenkan-1","tone":"tenkan","bar":118.0,"price":7397.9},
      {"segment":"tenkan-1","tone":"tenkan","bar":119.2,"price":7397.0},
      {"segment":"tenkan-1","tone":"tenkan","bar":120.7,"price":7393.3},
      {"segment":"tenkan-1","tone":"tenkan","bar":121.5,"price":7390.0},
      {"segment":"tenkan-c2","tone":"tenkan on cloud","bar":121.5,"price":7390.0},
      {"segment":"tenkan-c2","tone":"tenkan on cloud","bar":123.2,"price":7374.7},
      {"segment":"tenkan-c2","tone":"tenkan on cloud","bar":124.9,"price":7374.3},
      {"segment":"tenkan-2","tone":"tenkan","bar":124.9,"price":7374.3},
      {"segment":"tenkan-2","tone":"tenkan","bar":126.3,"price":7374.3},
      {"segment":"tenkan-c3","tone":"tenkan on cloud","bar":126.3,"price":7374.3},
      {"segment":"tenkan-c3","tone":"tenkan on cloud","bar":127.6,"price":7379.8},
      {"segment":"tenkan-c3","tone":"tenkan on cloud","bar":131.1,"price":7379.8},
      {"segment":"tenkan-c3","tone":"tenkan on cloud","bar":133.2,"price":7383.1},
      {"segment":"tenkan-c3","tone":"tenkan on cloud","bar":134.3,"price":7397.0},
      {"segment":"tenkan-c3","tone":"tenkan on cloud","bar":136.0,"price":7407.6},
      {"segment":"tenkan-c3","tone":"tenkan on cloud","bar":137.2,"price":7408.1}
    ],
    "arrows": [
      {"bar":138.8,"price":7425.2,"direction":"up"},
      {"bar":138.8,"price":7417.0,"direction":"down"}
    ],
    "box": [
      {"bar":130.2,"bar2":136.1,"price":7389.1,"price2":7376.6}
    ],
    "last": [
      {"bar":153.6,"bar2":158.9,"mid":156.2,"price":7420.95,"hi":7422.4,"lo":7419.4,"label":"7420.95"}
    ]
  },
  "layer": [
    {
      "data": {"name": "cloud"},
      "mark": {"type": "area", "clip": true, "interpolate": "linear"},
      "encoding": {
        "x": {
          "field": "bar", "type": "quantitative",
          "scale": {"domain": [-0.19, 153.46], "nice": false, "zero": false, "padding": 0},
          "axis": {
            "orient": "bottom", "title": null, "grid": false, "domain": false, "tickCount": 30,
            "values": [0,8,16,24,32,40,48,56,64,72,80,88,96,104,112,120,128,136],
            "labelExpr": "{'0':'5 May 2026','8':'5 May 10:00','16':'6 May 03:00','24':'6 May 11:00','32':'6 May 19:00','40':'7 May 04:00','48':'7 May 12:00','56':'7 May 20:00','64':'8 May 05:00','72':'8 May 13:00','80':'8 May 21:00','88':'11 May 06:00','96':'11 May 14:00','104':'11 May 22:00','112':'12 May 07:00','120':'12 May 15:00','128':'12 May 23:00','136':'13 May 08:00'}[datum.value]",
            "labelAlign": "left", "labelOffset": 2, "labelPadding": -2, "labelFlush": false, "labelOverlap": false,
            "labelFont": "Liberation Sans", "labelFontSize": 5.6, "labelColor": "#222",
            "tickColor": "#333", "tickSize": 5, "tickWidth": 1
          }
        },
        "y": {
          "field": "top", "type": "quantitative", "stack": null,
          "scale": {"domain": [7222.3, 7438.2], "nice": false, "zero": false},
          "axis": {
            "orient": "right", "title": null, "grid": false, "domain": false, "tickCount": 30,
            "values": [7231.2,7240.1,7249.0,7257.9,7266.8,7275.7,7284.6,7293.5,7302.4,7311.3,7320.2,7329.1,7338.0,7346.9,7355.8,7364.7,7373.6,7382.5,7391.4,7400.3,7409.2,7418.1,7427.0,7435.9],
            "format": ".2f", "labelFlush": false, "labelOverlap": false, "labelPadding": 1,
            "labelFont": "Liberation Sans", "labelFontSize": 5.6, "labelColor": "#222",
            "tickColor": "#333", "tickSize": 3, "tickWidth": 1
          }
        },
        "y2": {"field": "bottom"},
        "detail": {"field": "part"},
        "color": {
          "field": "kumo", "type": "nominal", "legend": null,
          "scale": {"domain": ["rising", "falling"], "range": ["#f4a460", "#d8bfd8"]}
        }
      }
    },
    {
      "data": {"name": "candles"},
      "mark": {"type": "rule", "clip": true, "color": "#555", "strokeWidth": 1},
      "encoding": {
        "x": {"field": "bar", "type": "quantitative"},
        "y": {"field": "low", "type": "quantitative"},
        "y2": {"field": "high"}
      }
    },
    {
      "data": {"name": "candles"},
      "mark": {"type": "bar", "clip": true, "size": 2.6, "strokeWidth": 0.7, "orient": "vertical"},
      "encoding": {
        "x": {"field": "bar", "type": "quantitative"},
        "y": {"field": "open", "type": "quantitative"},
        "y2": {"field": "close"},
        "fill": {
          "field": "tone", "type": "nominal", "legend": null,
          "scale": {"domain": ["up", "down", "cloud"], "range": ["#ffffff", "#000000", "#0b5fa5"]}
        },
        "stroke": {
          "field": "tone", "type": "nominal", "legend": null,
          "scale": {"domain": ["up", "down", "cloud"], "range": ["#555555", "#000000", "#0b5fa5"]}
        }
      }
    },
    {
      "data": {"name": "lines"},
      "mark": {"type": "line", "clip": true, "strokeWidth": 1.4, "strokeJoin": "round"},
      "encoding": {
        "x": {"field": "bar", "type": "quantitative"},
        "y": {"field": "price", "type": "quantitative"},
        "detail": {"field": "segment"},
        "order": {"field": "bar", "type": "quantitative"},
        "color": {
          "field": "tone", "type": "nominal", "legend": null,
          "scale": {
            "domain": ["chikou", "tenkan", "tenkan on cloud", "kijun", "kijun on cloud"],
            "range": ["#14f014", "#f01414", "#f0559f", "#1414f0", "#1d6b6f"]
          }
        }
      }
    },
    {
      "data": {"name": "last"},
      "mark": {"type": "rule", "color": "#e25555", "strokeWidth": 1},
      "encoding": {
        "x": {"value": 0},
        "x2": {"value": 736},
        "y": {"field": "price", "type": "quantitative"}
      }
    },
    {
      "data": {"name": "box"},
      "mark": {"type": "rect", "clip": true, "fillOpacity": 0, "stroke": "#ff3fdc", "strokeWidth": 2.6},
      "encoding": {
        "x": {"field": "bar", "type": "quantitative"},
        "x2": {"field": "bar2"},
        "y": {"field": "price", "type": "quantitative"},
        "y2": {"field": "price2"}
      }
    },
    {
      "data": {"name": "arrows"},
      "mark": {"type": "point", "filled": true, "fill": "white", "size": 144, "opacity": 1, "strokeWidth": 1.2},
      "encoding": {
        "x": {"field": "bar", "type": "quantitative"},
        "y": {"field": "price", "type": "quantitative"},
        "shape": {
          "field": "direction", "type": "nominal", "legend": null,
          "scale": {
            "domain": ["up", "down"],
            "range": ["M0,-1L0.72,-0.1L0.33,-0.1L0.33,1L-0.33,1L-0.33,-0.1L-0.72,-0.1Z", "M0,1L0.72,0.1L0.33,0.1L0.33,-1L-0.33,-1L-0.33,0.1L-0.72,0.1Z"]
          }
        },
        "stroke": {
          "field": "direction", "type": "nominal", "legend": null,
          "scale": {"domain": ["up", "down"], "range": ["#72e872", "#ff5a5a"]}
        }
      }
    },
    {
      "data": {"name": "last"},
      "mark": {"type": "rect", "color": "#c8000a"},
      "encoding": {
        "x": {"field": "bar", "type": "quantitative"},
        "x2": {"field": "bar2"},
        "y": {"field": "hi", "type": "quantitative"},
        "y2": {"field": "lo"}
      }
    },
    {
      "data": {"name": "last"},
      "mark": {"type": "text", "color": "white", "font": "Liberation Sans", "fontSize": 5.6, "align": "center", "baseline": "middle"},
      "encoding": {
        "x": {"field": "mid", "type": "quantitative"},
        "y": {"field": "price", "type": "quantitative"},
        "text": {"field": "label"}
      }
    }
  ],
  "resolve": {"scale": {"color": "independent", "fill": "independent", "stroke": "independent", "shape": "independent"}},
  "config": {
    "view": {"stroke": "#555", "strokeWidth": 1},
    "axis": {"labelBound": false}
  }
}
